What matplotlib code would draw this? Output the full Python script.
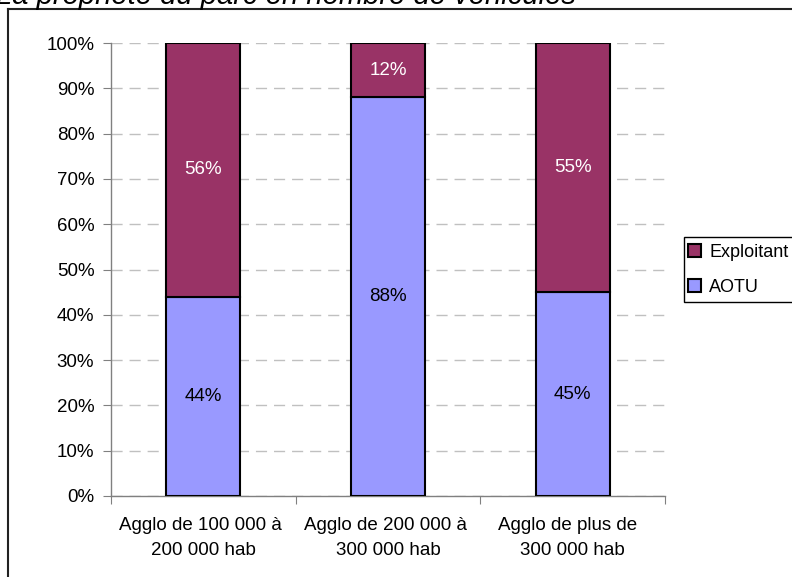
import numpy as np
import matplotlib.pyplot as plt
from matplotlib.lines import Line2D
from matplotlib.patches import Rectangle
from matplotlib.ticker import PercentFormatter

plt.rcParams['font.family'] = ['Liberation Sans', 'DejaVu Sans']

categories = ["Agglo de 100 000 à \n200 000 hab",
              "Agglo de 200 000 à \n300 000 hab",
              "Agglo de plus de  \n300 000 hab"]
aotu = [44, 88, 45]
exploitant = [56, 12, 55]

purple = "#993366"
lilac = "#9999ff"
W, H = 792, 577
fs = 13.5

fig = plt.figure(figsize=(W / 100, H / 100), dpi=100)
ax = fig.add_axes([111 / W, 81 / H, 554 / W, 453 / H])

x = np.arange(len(categories))
b1 = ax.bar(x, aotu, width=0.4, color=lilac, edgecolor="black",
            linewidth=1.5, label="AOTU", zorder=3)
b2 = ax.bar(x, exploitant, width=0.4, bottom=aotu, color=purple,
            edgecolor="black", linewidth=1.5, label="Exploitant", zorder=3)

ax.bar_label(b1, labels=[f"{v}%" for v in aotu], label_type="center",
             fontsize=fs, color="black")
ax.bar_label(b2, labels=[f"{v}%" for v in exploitant], label_type="center",
             fontsize=fs, color="white")

ax.set_xlim(-0.5, 2.5)
ax.set_ylim(0, 100)
ax.set_yticks(np.arange(0, 101, 10))
ax.yaxis.set_major_formatter(PercentFormatter(decimals=0))
ax.grid(axis="y", color="#c0c0c0", linestyle=(0, (8, 5)), linewidth=1)

# category ticks sit between the bars, labels go under each bar
ax.set_xticks([-0.5, 0.5, 1.5, 2.5])
ax.set_xticklabels([])
ax.set_xticks(x, minor=True)
ax.set_xticklabels(categories, minor=True, fontsize=fs, linespacing=1.65)
ax.tick_params(axis="x", which="minor", length=0, pad=15)
ax.tick_params(axis="x", which="major", length=6, color="#808080")
ax.tick_params(axis="y", length=6, color="#808080", labelsize=fs, pad=6)

for side in ("top", "right"):
    ax.spines[side].set_visible(False)
for side in ("left", "bottom"):
    ax.spines[side].set_color("#808080")
    ax.spines[side].set_linewidth(1)

# legend box runs past the right edge
fig.add_artist(Rectangle((684 / W, 1 - 302 / H), 130 / W, 65 / H,
                         transform=fig.transFigure, facecolor="white",
                         edgecolor="black", linewidth=1, clip_on=False))
leg = fig.legend([b2, b1], ["Exploitant", "AOTU"], loc="upper left",
                 bbox_to_anchor=(684 / W, 1 - 240 / H), fontsize=13,
                 frameon=False, handlelength=0.75, handleheight=0.75,
                 handletextpad=0.45, labelspacing=1.0, borderpad=0.2,
                 borderaxespad=0)

# outer chart frame (left and top edges visible)
fig.add_artist(Line2D([8 / W, 8 / W], [0, 1 - 9 / H],
                      color="#222222", linewidth=1.5))
fig.add_artist(Line2D([8 / W, 1], [1 - 9 / H, 1 - 9 / H],
                      color="#222222", linewidth=1.5))

fig.text(-4 / W, 1 - 4 / H, "La propriété du parc en nombre de véhicules",
         fontsize=21, style="italic", va="baseline", ha="left")

fig.savefig("out.png", dpi=100)
